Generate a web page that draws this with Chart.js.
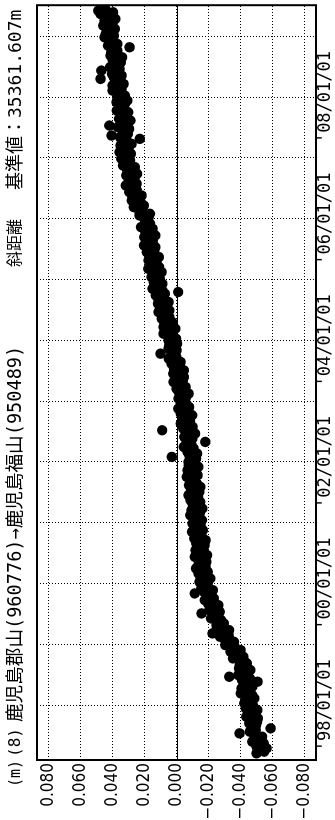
<!DOCTYPE html>
<html lang="ja">
<head>
<meta charset="utf-8">
<title>斜距離 鹿児島郡山→鹿児島福山</title>
<script src="https://cdn.jsdelivr.net/npm/chart.js@4.4.1/dist/chart.umd.min.js"></script>
<style>
    html, body { margin: 0; padding: 0; background: #fff; overflow: hidden; }
    body { width: 335px; height: 820px; position: relative; }
    /* the chart is laid out 820 wide and turned a quarter turn to the left */
    #wrap {
        position: absolute; left: 0; top: 0; width: 820px; height: 335px;
        transform-origin: 0 0; transform: translate(0, 820px) rotate(-90deg);
    }
</style>
</head>
<body>
<div id="wrap"><canvas id="chart" width="820" height="335"></canvas></div>
<script>
// header texts
const titleTexts = ['(m)', '(8)', '鹿児島郡山(960776)→鹿児島福山(950489)', '斜距離', '基準値：35361.607m'];

// axis ticks
const yearTicks = [1998, 1999, 2000, 2001, 2002, 2003, 2004, 2005, 2006, 2007, 2008, 2009];
const valueTicks = [-0.08, -0.06, -0.04, -0.02, 0, 0.02, 0.04, 0.06, 0.08];

// observations (m), one every 10 days from 1997.21
const firstObs = 1997.21;
const obsStep = 10 / 365.25;
const obs1997 = [-0.0500, -0.0548, -0.0515, -0.0563, -0.0500, -0.0518, -0.0545, -0.0473, -0.0520, -0.0488,
    -0.0535, -0.0493, -0.0394, -0.0458, -0.0495, -0.0588, -0.0470, -0.0498, -0.0455, -0.0503,
    -0.0470, -0.0508, -0.0435, -0.0483, -0.0470, -0.0448, -0.0505, -0.0433, -0.0480];
const obs1998 = [-0.0475, -0.0423, -0.0461, -0.0429, -0.0487, -0.0435, -0.0473, -0.0401, -0.0439, -0.0457,
    -0.0406, -0.0474, -0.0423, -0.0442, -0.0506, -0.0409, -0.0458, -0.0330, -0.0385, -0.0444,
    -0.0413, -0.0462, -0.0391, -0.0430, -0.0395, -0.0440, -0.0395, -0.0420, -0.0353, -0.0417,
    -0.0360, -0.0383, -0.0337, -0.0400, -0.0342, -0.0363, -0.0305];
const obs1999 = [-0.0325, -0.0359, -0.0303, -0.0328, -0.0272, -0.0326, -0.0225, -0.0294, -0.0328, -0.0252,
    -0.0286, -0.0250, -0.0296, -0.0253, -0.0279, -0.0216, -0.0262, -0.0229, -0.0156, -0.0270,
    -0.0205, -0.0250, -0.0215, -0.0261, -0.0196, -0.0221, -0.0176, -0.0233, -0.0190, -0.0217,
    -0.0113, -0.0170, -0.0227, -0.0154, -0.0191, -0.0158];
const obs2000 = [-0.0195, -0.0144, -0.0172, -0.0211, -0.0149, -0.0178, -0.0137, -0.0195, -0.0154, -0.0122,
    -0.0181, -0.0160, -0.0138, -0.0187, -0.0145, -0.0164, -0.0113, -0.0191, -0.0130, -0.0169,
    -0.0118, -0.0157, -0.0146, -0.0175, -0.0123, -0.0132, -0.0181, -0.0110, -0.0159, -0.0128,
    -0.0147, -0.0096, -0.0165, -0.0114, -0.0132, -0.0151, -0.0100];
const obs2001 = [-0.0120, -0.0159, -0.0108, -0.0137, -0.0086, -0.0145, -0.0124, -0.0093, -0.0162, -0.0111,
    -0.0130, -0.0099, -0.0148, -0.0087, -0.0116, -0.0135, -0.0074, -0.0123, -0.0142, -0.0091,
    -0.0100, -0.0149, -0.0078, -0.0127, -0.0106, -0.0085, -0.0114, -0.0063, -0.0132, -0.0091,
    -0.0120, -0.0069, -0.0108, -0.0137, -0.0076, -0.0095];
const obs2002 = [-0.0074, -0.0103, -0.0122, 0.0030, -0.0080, -0.0129, -0.0068, -0.0087, -0.0106, -0.0045,
    -0.0094, -0.0072, -0.0180, -0.0060, -0.0099, -0.0048, -0.0077, -0.0116, -0.0065, 0.0090,
    -0.0042, -0.0100, -0.0048, -0.0026, -0.0085, -0.0063, -0.0071, -0.0040, -0.0098, -0.0026,
    -0.0044, -0.0073, -0.0011, -0.0079, -0.0048, -0.0026, -0.0054];
const obs2003 = [-0.0054, -0.0012, -0.0060, -0.0028, -0.0076, -0.0014, -0.0031, 0.0001, -0.0057, -0.0015,
    -0.0033, 0.0019, -0.0039, 0.0003, -0.0045, -0.0013, 0.0020, -0.0018, -0.0046, 0.0016,
    0.0008, -0.0020, 0.0032, -0.0026, 0.0006, 0.0049, 0.0001, 0.0033, 0.0100, 0.0027,
    -0.0001, 0.0051, 0.0013, 0.0045, -0.0003, 0.0039];
const obs2004 = [0.0051, 0.0003, 0.0046, 0.0028, 0.0081, 0.0023, 0.0046, 0.0008, 0.0081, 0.0043,
    0.0075, 0.0028, 0.0070, 0.0093, 0.0045, 0.0068, 0.0060, 0.0113, 0.0045, 0.0098,
    0.0061, 0.0093, 0.0116, 0.0049, 0.0092, 0.0114, 0.0087, 0.0130, 0.0073, -0.0010,
    0.0088, 0.0151, 0.0104, 0.0117, 0.0089, 0.0142, 0.0135];
const obs2005 = [0.0105, 0.0157, 0.0119, 0.0141, 0.0093, 0.0155, 0.0177, 0.0109, 0.0141, 0.0152,
    0.0124, 0.0176, 0.0138, 0.0110, 0.0172, 0.0154, 0.0186, 0.0138, 0.0170, 0.0132,
    0.0203, 0.0155, 0.0187, 0.0148, 0.0170, 0.0202, 0.0133, 0.0185, 0.0167, 0.0198,
    0.0150, 0.0222, 0.0183, 0.0165, 0.0197, 0.0178];
const obs2006 = [0.0200, 0.0175, 0.0231, 0.0166, 0.0232, 0.0217, 0.0213, 0.0268, 0.0204, 0.0249,
    0.0225, 0.0280, 0.0243, 0.0276, 0.0219, 0.0262, 0.0295, 0.0248, 0.0281, 0.0264,
    0.0317, 0.0250, 0.0301, 0.0282, 0.0263, 0.0294, 0.0315, 0.0246, 0.0277, 0.0308,
    0.0289, 0.0260, 0.0335, 0.0290, 0.0315, 0.0290, 0.0345];
const obs2007 = [0.0305, 0.0336, 0.0286, 0.0357, 0.0318, 0.0299, 0.0329, 0.0350, 0.0281, 0.0341,
    0.0312, 0.0230, 0.0354, 0.0406, 0.0305, 0.0335, 0.0326, 0.0296, 0.0367, 0.0420,
    0.0318, 0.0348, 0.0288, 0.0359, 0.0329, 0.0310, 0.0340, 0.0302, 0.0374, 0.0327,
    0.0359, 0.0341, 0.0323, 0.0376, 0.0308, 0.0360];
const obs2008 = [0.0370, 0.0323, 0.0366, 0.0349, 0.0401, 0.0344, 0.0367, 0.0400, 0.0331, 0.0381,
    0.0362, 0.0475, 0.0393, 0.0343, 0.0404, 0.0374, 0.0470, 0.0356, 0.0416, 0.0367,
    0.0388, 0.0348, 0.0399, 0.0379, 0.0340, 0.0413, 0.0375, 0.0408, 0.0370, 0.0403,
    0.0294, 0.0428, 0.0370, 0.0423, 0.0395, 0.0408, 0.0450];
const obs2009 = [0.0392, 0.0443, 0.0404, 0.0435, 0.0386, 0.0427, 0.0458, 0.0399, 0.0420, 0.0451,
    0.0382, 0.0443, 0.0414, 0.0475, 0.0396, 0.0490, 0.0445];

const displacement = [].concat(obs1997, obs1998, obs1999, obs2000, obs2001, obs2002, obs2003,
    obs2004, obs2005, obs2006, obs2007, obs2008, obs2009);

const MONO = "'DejaVu Sans Mono', 'Noto Sans CJK JP', monospace";
const NARROW = "'Liberation Sans Narrow', 'DejaVu Sans Condensed', 'DejaVu Sans Mono', sans-serif";

function formatValue(v) {
    if (Math.abs(v) < 1e-9) return '0.000';
    return (v < 0 ? '−' : '') + Math.abs(v).toFixed(3);
}

function formatYear(v) {
    if (v % 2 !== 0) return '';
    return `'${String(v).slice(2)}/01/01`;
}

// header line, zero line and frame
const decorations = {
    id: 'decorations',
    beforeDatasetsDraw(chart) {
        const { ctx, chartArea } = chart;
        const y0 = Math.round(chart.scales.y.getPixelForValue(0)) + 0.5;
        ctx.save();
        ctx.strokeStyle = '#000';
        ctx.lineWidth = 1.2;
        ctx.beginPath();
        ctx.moveTo(chartArea.left, y0);
        ctx.lineTo(chartArea.right, y0);
        ctx.stroke();
        ctx.restore();
    },
    afterDatasetsDraw(chart) {
        const { ctx, chartArea } = chart;
        ctx.save();
        ctx.strokeStyle = '#000';
        ctx.lineWidth = 2;
        ctx.strokeRect(chartArea.left, chartArea.top, chartArea.right - chartArea.left, chartArea.bottom - chartArea.top);

        const xs = [33, 63, 98, 553, 630];
        const sizes = [15, 16, 18.6, 16, 18];
        ctx.fillStyle = '#000';
        ctx.textBaseline = 'middle';
        ctx.textAlign = 'left';
        titleTexts.forEach((t, i) => {
            ctx.font = `${sizes[i]}px ${MONO}`;
            ctx.fillText(t, xs[i], 16);
        });
        ctx.restore();
    },
};

new Chart(document.getElementById('chart'), {
    type: 'scatter',
    data: {
        datasets: [
            {
                data: displacement.map((v, i) => ({ x: firstObs + i * obsStep, y: v })),
                backgroundColor: '#000',
                borderWidth: 0,
                pointRadius: 5.2,
            },
        ],
    },
    options: {
        responsive: false,
        animation: false,
        events: [],
        layout: { padding: { top: 37, right: 2, left: 0, bottom: 0 } },
        plugins: {
            legend: { display: false },
            tooltip: { enabled: false },
        },
        scales: {
            x: {
                type: 'linear',
                min: 1997.1,
                max: 2009.51,
                afterBuildTicks: (axis) => { axis.ticks = yearTicks.map((v) => ({ value: v })); },
                afterFit: (axis) => { axis.height = 19; },
                grid: { color: '#000', lineWidth: 1, drawTicks: false },
                border: { display: false, dash: [1, 2] },
                ticks: {
                    autoSkip: false,
                    maxRotation: 0,
                    padding: -1,
                    color: '#000',
                    font: { family: MONO, size: 17 },
                    callback: (v) => formatYear(v),
                },
            },
            y: {
                min: -0.0872,
                max: 0.0872,
                afterBuildTicks: (axis) => { axis.ticks = valueTicks.map((v) => ({ value: v })); },
                afterFit: (axis) => { axis.width = 60; },
                grid: { color: '#000', lineWidth: 1, drawTicks: false },
                border: { display: false, dash: [1, 2] },
                ticks: {
                    padding: 3,
                    color: '#000',
                    font: { family: NARROW, size: 17 },
                    callback: (v) => formatValue(v),
                },
            },
        },
    },
    plugins: [decorations],
});
</script>
</body>
</html>
